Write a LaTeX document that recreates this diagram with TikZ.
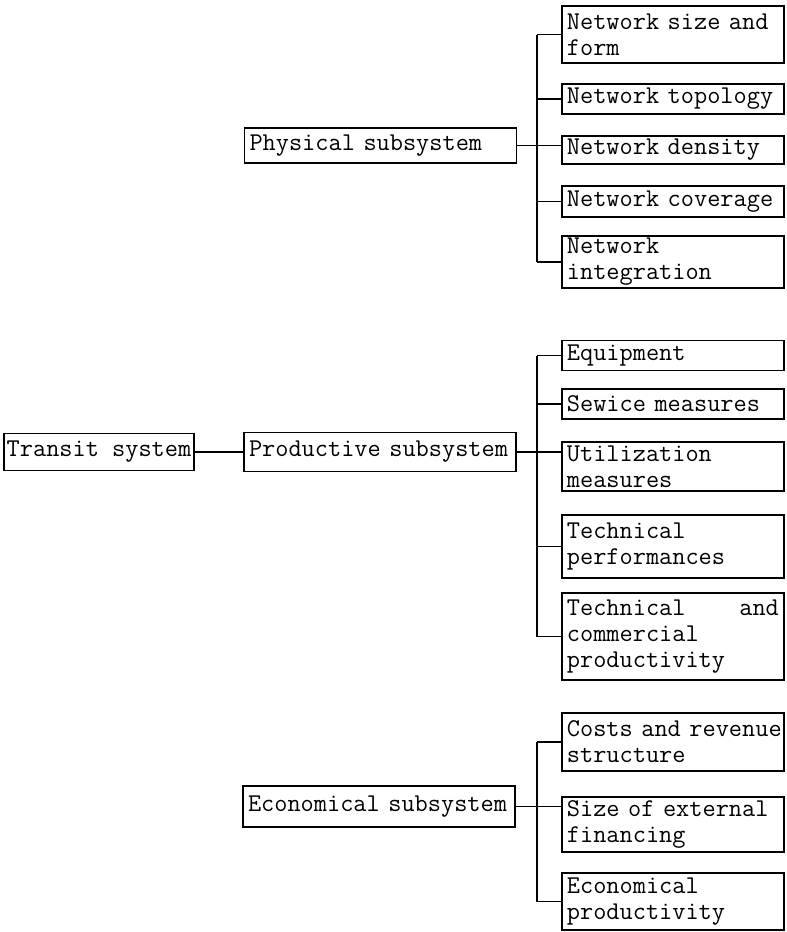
\documentclass[tikz,border=0pt]{standalone}
\usepackage{tikz}

\begin{document}
\begin{tikzpicture}[x=0.5pt,y=-0.5pt,
  box/.style={draw, line width=0.9pt, font=\ttfamily\fontsize{12.8}{13}\selectfont,
    inner xsep=2.5pt, inner ysep=0pt, align=left},
  main/.style={box, text width=131pt, minimum height=#1},
  leaf/.style={box, anchor=west, text width=106pt, minimum height=#1},
  link/.style={line width=0.9pt}]
\useasboundingbox (0,0) rectangle (787,932);
\node[box, inner xsep=1.5pt, minimum width=94pt, minimum height=18.5pt] (transit) at (99,452) {Transit system};
\node[main=19.5pt] (prod) at (380,452) {Productive subsystem};
\node[main=17.5pt] (phys) at (380.5,145.5) {Physical subsystem};
\node[main=20.5pt] (econ) at (379,806.5) {Economical subsystem};
\node[leaf=28.5pt] (size) at (561,34.5) {Network size and\\form};
\node[leaf=15pt] (topo) at (561,99) {Network topology};
\node[leaf=14pt] (dens) at (561,150) {Network density};
\node[leaf=15.5pt] (cov) at (561,201.5) {Network coverage};
\node[leaf=26pt] (integ) at (561,262) {Network\\integration};
\node[leaf=15pt] (equip) at (561,355.5) {Equipment};
\node[leaf=15pt] (serv) at (561,404) {Sewice measures};
\node[leaf=24.5pt] (util) at (561,466.5) {Utilization\\measures};
\node[leaf=31.5pt] (perf) at (561,546.5) {Technical\\performances};
\node[leaf=43.5pt] (comm) at (561,636.5) {Technical\hfill and\\commercial\\productivity};
\node[leaf=29pt] (cost) at (561,742) {\mbox{Costs and revenue}\\structure};
\node[leaf=27.5pt] (ext) at (561,824.5) {\mbox{Size of external}\\financing};
\node[leaf=28.5pt] (eprod) at (561,901.5) {Economical\\productivity};
\coordinate (bus) at (537,0);
\draw[link] (transit) -- (prod);
\draw[link] (phys.east) -- (phys.east -| dens.west);
\draw[link] (size.west -| bus) -- (integ.west -| bus);
\foreach \n in {size,topo,cov,integ}
  \draw[link] (\n.west) -- (\n.west -| bus);
\draw[link] (prod.east) -- (prod.east -| util.west);
\draw[link] (equip.west -| bus) -- (comm.west -| bus);
\foreach \n in {equip,serv,perf,comm}
  \draw[link] (\n.west) -- (\n.west -| bus);
\draw[link] (econ.east) -- (econ.east -| ext.west);
\draw[link] (cost.west -| bus) -- (eprod.west -| bus);
\foreach \n in {cost,eprod}
  \draw[link] (\n.west) -- (\n.west -| bus);
\end{tikzpicture}
\end{document}
